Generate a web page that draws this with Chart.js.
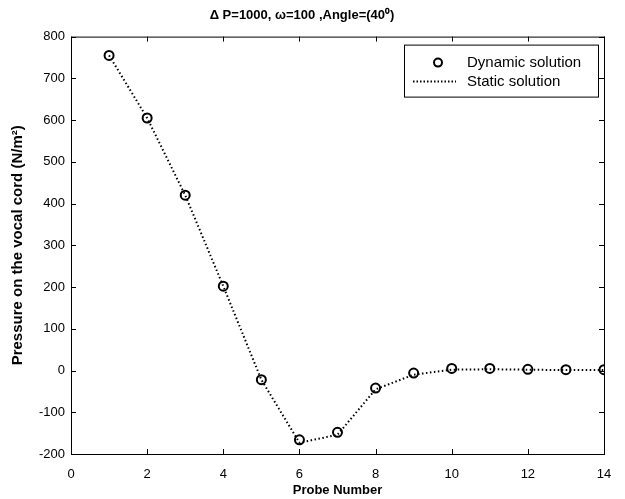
<!DOCTYPE html>
<html>
<head>
<meta charset="utf-8">
<script src="https://cdn.jsdelivr.net/npm/chart.js@4.4.0/dist/chart.umd.min.js"></script>
<style>
  html, body { margin: 0; padding: 0; background: #fff; }
  #wrap { width: 625px; height: 499px; }
</style>
</head>
<body>
<div id="wrap"><canvas id="pressureChart"></canvas></div>
<script>
(function() {

    // probe positions and pressures
    var probes = [1, 2, 3, 4, 5, 6, 7, 8, 9, 10, 11, 12, 13, 14];
    var dynamicVals = [755, 605, 420, 202, -22, -166, -148, -42, -6, 5, 5, 3, 2, 2];
    var staticVals = [755, 605, 420, 202, -22, -173, -154, -45, -10, 2, 3, 2, 1, 1];
    var xTicks = [0, 2, 4, 6, 8, 10, 12, 14];
    var yTicks = [-200, -100, 0, 100, 200, 300, 400, 500, 600, 700, 800];

    var FONT = "'Liberation Sans', Arial, sans-serif";

    function toPoints(xs, ys) {
        var pts = [];
        for (var i = 0; i < xs.length; i++) {
            pts.push({x: xs[i], y: ys[i]});
        }
        return pts;
    }

    // matlab style box with inward ticks
    var boxTicks = {
        id: 'boxTicks',
        afterDraw: function(chart) {
            var ctx = chart.ctx;
            var a = chart.chartArea;
            var xs = chart.scales.x, ys = chart.scales.y;
            var len = 5;
            ctx.save();
            ctx.strokeStyle = '#000';
            ctx.lineWidth = 1;
            ctx.strokeRect(a.left + 0.5, a.top + 0.5, a.right - a.left, a.bottom - a.top);
            ctx.beginPath();
            xTicks.forEach(function(v) {
                var px = Math.round(xs.getPixelForValue(v)) + 0.5;
                ctx.moveTo(px, a.bottom); ctx.lineTo(px, a.bottom - len);
                ctx.moveTo(px, a.top); ctx.lineTo(px, a.top + len);
            });
            yTicks.forEach(function(v) {
                var py = Math.round(ys.getPixelForValue(v)) + 0.5;
                ctx.moveTo(a.left, py); ctx.lineTo(a.left + len, py);
                ctx.moveTo(a.right, py); ctx.lineTo(a.right - len, py);
            });
            ctx.stroke();

            // legend box, top right inside the axes
            var bx = a.right - 200, by = a.top + 8, bw = 194, bh = 52;
            ctx.fillStyle = '#fff';
            ctx.fillRect(bx, by, bw, bh);
            ctx.strokeRect(bx + 0.5, by + 0.5, bw, bh);
            var ds = chart.data.datasets;
            ctx.font = '15px ' + FONT;
            ctx.fillStyle = '#000';
            ctx.textBaseline = 'middle';
            ctx.textAlign = 'left';
            // marker entry
            ctx.lineWidth = 2;
            ctx.beginPath();
            ctx.arc(bx + 34, by + 18, 4, 0, Math.PI * 2);
            ctx.stroke();
            ctx.fillText(ds[0].label, bx + 63, by + 18);
            // dotted line entry
            ctx.setLineDash([1.5, 2]);
            ctx.beginPath();
            ctx.moveTo(bx + 9, by + 37);
            ctx.lineTo(bx + 52, by + 37);
            ctx.stroke();
            ctx.setLineDash([]);
            ctx.fillText(ds[1].label, bx + 63, by + 37);
            ctx.restore();
        }
    };

    var pressureChart = new Chart(document.getElementById('pressureChart'), {
        type: 'scatter',
        data: {
            datasets: [{
                label: 'Dynamic solution',
                data: toPoints(probes, dynamicVals),
                showLine: false,
                pointStyle: 'circle',
                pointRadius: 4.5,
                pointBorderWidth: 2,
                pointBorderColor: '#000',
                pointBackgroundColor: 'rgba(0,0,0,0)',
                order: 0
            }, {
                label: 'Static solution',
                data: toPoints(probes, staticVals),
                showLine: true,
                borderColor: '#000',
                borderWidth: 2,
                borderDash: [1.5, 2.5],
                borderCapStyle: 'butt',
                pointRadius: 0,
                fill: false,
                order: 1
            }]
        },
        options: {
            responsive: true,
            maintainAspectRatio: false,
            animation: false,
            devicePixelRatio: 1,
            layout: { padding: { left: 0, right: 21, top: 0, bottom: 0 } },
            plugins: {
                legend: { display: false },
                tooltip: { enabled: false },
                title: {
                    display: true,
                    text: '\u0394 P=1000, \u03c9=100 ,Angle=(40\u2070)',
                    color: '#000',
                    font: { family: FONT, size: 13, weight: 'bold' },
                    padding: { top: 8, bottom: 13 }
                }
            },
            scales: {
                x: {
                    type: 'linear',
                    min: 0, max: 14,
                    grid: { display: false, drawTicks: false },
                    border: { display: false },
                    afterFit: function(scale) { scale.height = 45; },
                    afterBuildTicks: function(scale) {
                        scale.ticks = xTicks.map(function(v) { return {value: v}; });
                    },
                    ticks: {
                        color: '#000',
                        padding: 13,
                        maxRotation: 0,
                        font: { family: FONT, size: 13 }
                    },
                    title: {
                        display: true,
                        text: 'Probe Number',
                        color: '#000',
                        font: { family: FONT, size: 13, weight: 'bold' },
                        padding: { top: 0, bottom: 1 }
                    }
                },
                y: {
                    type: 'linear',
                    min: -200, max: 800,
                    grid: { display: false, drawTicks: false },
                    border: { display: false },
                    afterFit: function(scale) { scale.width = 71; },
                    afterBuildTicks: function(scale) {
                        scale.ticks = yTicks.map(function(v) { return {value: v}; });
                    },
                    ticks: {
                        color: '#000',
                        padding: 6,
                        font: { family: FONT, size: 13 }
                    },
                    title: {
                        display: true,
                        text: 'Pressure on the vocal cord (N/m\u00b2)',
                        color: '#000',
                        font: { family: FONT, size: 15, weight: 'bold' },
                        padding: { top: 9, bottom: 0 }
                    }
                }
            }
        },
        plugins: [boxTicks]
    });

})();
</script>
</body>
</html>
